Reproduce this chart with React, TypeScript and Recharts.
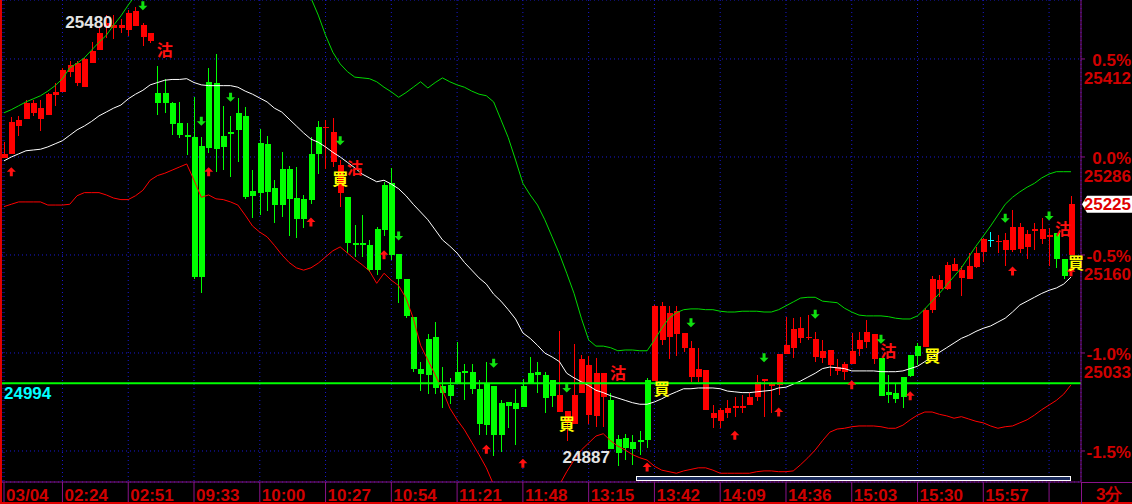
import React from 'react';
import { ComposedChart, Bar, Line, XAxis, YAxis, CartesianGrid, ReferenceLine, ReferenceDot } from 'recharts';

const W = 1132;
const H = 504;
const AXIS_RED = '#d00000';
const PURPLE = '#8a128a';
const GRID = '#1a1ad0';
const FONT = '"Liberation Sans", Arial, sans-serif';
const CJK = '"Noto Sans CJK TC", "Noto Sans CJK SC", sans-serif';

// ---- values ----
const basePrice = 25286;
const supportPrice = 24994;
const yDomain = [24866.7, 25488.5];
const xDomain = [-0.274, 147.37];

const tickIdx = [0, 8, 17, 26, 35, 44, 53, 62, 71, 80, 89, 98, 107, 116, 125, 134, 143];
const tickLabels = ['03/04', '02:24', '02:51', '09:33', '10:00', '10:27', '10:54', '11:21', '11:48', '13:15', '13:42', '14:09', '14:36', '15:03', '15:30', '15:57', ''];
const pctSteps = [0.5, 0, -0.5, -1.0, -1.5];
const pctLabels = ['0.5%', '0.0%', '-0.5%', '-1.0%', '-1.5%'];
const priceLabels = ['25412', '25286', '25160', '25033', ''];

const opens = [
  25285, 25290, 25326, 25335, 25343, 25335, 25340, 25366, 25370, 25396, 25381, 25376, 25407, 25424, 25454, 25452, 25452, 25450, 25455, 25441,
  25436, 25369, 25369, 25356, 25330, 25314, 25312, 25300, 25383, 25382, 25313, 25318, 25343, 25339, 25242, 25304, 25303, 25246, 25271, 25271,
  25233, 25232, 25290, 25325, 25323, 25279, 25240, 25234, 25175, 25175, 25172, 25193, 25250, 25252, 25161, 25129, 25080, 25013, 25051, 25054,
  24991, 24992, 25009, 25010, 25009, 24987, 24994, 24991, 24969, 24970, 24969, 24991, 25007, 25009, 25005, 24998, 24957, 24943, 24941, 24982,
  24953, 24952, 24976, 24972, 24922, 24923, 24918, 24921, 24998, 24997, 25050, 25054, 25058, 25040, 25002, 25002, 24960, 24949, 24945, 24956,
  24962, 24962, 24966, 24976, 24997, 24991, 24992, 25032, 25040, 25052, 25052, 25028, 25027, 25018, 25010, 25009, 25019, 25038, 25047, 25025,
  25027, 24983, 24982, 25002, 25031, 25042, 25041, 25089, 25116, 25116, 25139, 25130, 25129, 25144, 25163, 25179, 25176, 25166, 25166, 25167,
  25170, 25190, 25180, 25183, 25188, 25154, 25160,
];
const closes = [
  25290, 25331, 25334, 25356, 25356, 25349, 25367, 25370, 25398, 25405, 25407, 25412, 25423, 25446, 25459, 25456, 25456, 25472, 25474, 25456,
  25446, 25356, 25356, 25329, 25314, 25312, 25131, 25131, 25298, 25296, 25299, 25316, 25321, 25234, 25236, 25240, 25241, 25224, 25224, 25232,
  25206, 25206, 25231, 25290, 25325, 25318, 25276, 25175, 25172, 25172, 25140, 25140, 25192, 25160, 25129, 25081, 25013, 25006, 25005, 24988,
  24982, 24978, 24994, 25007, 24987, 24941, 24940, 24927, 24927, 24965, 24961, 24963, 24994, 25005, 24975, 24978, 24979, 24958, 24979, 25025,
  25018, 25007, 25007, 24909, 24904, 24911, 24909, 24918, 24921, 25094, 25094, 25085, 25087, 25059, 25040, 25013, 25011, 24956, 24960, 24962,
  24965, 24965, 24976, 24996, 25000, 24993, 25032, 25043, 25064, 25065, 25054, 25051, 25036, 25037, 25015, 25019, 25036, 25050, 25060, 25058,
  24978, 24979, 24974, 24976, 25004, 25029, 25089, 25129, 25127, 25147, 25148, 25140, 25145, 25162, 25180, 25179, 25178, 25179, 25196, 25196,
  25187, 25193, 25193, 25185, 25154, 25132, 25225,
];
const highs = [
  25305, 25338, 25339, 25360, 25360, 25360, 25369, 25382, 25401, 25410, 25410, 25414, 25434, 25452, 25469, 25469, 25464, 25475, 25480, 25459,
  25446, 25403, 25386, 25357, 25357, 25330, 25363, 25312, 25401, 25419, 25352, 25339, 25362, 25351, 25269, 25322, 25313, 25256, 25292, 25274,
  25273, 25237, 25312, 25332, 25334, 25336, 25282, 25234, 25198, 25211, 25179, 25196, 25254, 25272, 25161, 25129, 25080, 25022, 25058, 25073,
  25015, 25001, 25047, 25019, 25019, 24998, 25022, 24991, 24972, 24970, 24987, 25000, 25028, 25022, 25009, 24998, 25061, 24958, 25045, 25031,
  25029, 25027, 25007, 24982, 24927, 24929, 24927, 24932, 25001, 25095, 25099, 25094, 25094, 25059, 25049, 25040, 25011, 24966, 24962, 24973,
  24976, 24979, 24982, 25005, 25000, 24996, 25032, 25080, 25078, 25080, 25082, 25060, 25050, 25037, 25025, 25022, 25059, 25060, 25076, 25058,
  25027, 25005, 24994, 25002, 25031, 25046, 25091, 25132, 25134, 25150, 25156, 25145, 25162, 25170, 25181, 25189, 25185, 25188, 25218, 25201,
  25192, 25201, 25207, 25194, 25188, 25154, 25236,
];
const lows = [
  25285, 25290, 25313, 25335, 25339, 25320, 25340, 25352, 25370, 25389, 25378, 25376, 25407, 25424, 25440, 25438, 25446, 25442, 25455, 25429,
  25433, 25340, 25343, 25314, 25311, 25289, 25129, 25110, 25291, 25267, 25269, 25260, 25280, 25232, 25207, 25211, 25216, 25201, 25209, 25184,
  25181, 25194, 25225, 25264, 25271, 25273, 25222, 25162, 25157, 25157, 25138, 25134, 25184, 25153, 25098, 25078, 25009, 24984, 24980, 24980,
  24962, 24967, 24994, 24972, 24980, 24927, 24927, 24900, 24905, 24936, 24914, 24963, 24994, 24982, 24956, 24963, 24957, 24920, 24941, 24982,
  24941, 24938, 24938, 24909, 24887, 24895, 24888, 24902, 24911, 24997, 25043, 25025, 25029, 25034, 24996, 24996, 24960, 24936, 24936, 24949,
  24951, 24956, 24966, 24971, 24951, 24956, 24979, 25032, 25027, 25046, 25050, 25022, 25020, 25004, 25005, 24998, 25019, 25029, 25040, 25019,
  24978, 24969, 24969, 24962, 25002, 25018, 25041, 25085, 25105, 25114, 25139, 25107, 25129, 25143, 25150, 25170, 25162, 25145, 25163, 25162,
  25154, 25166, 25174, 25145, 25143, 25129, 25160,
];
const bollUpper = [
  25343, 25347, 25352, 25357, 25361, 25365, 25371, 25378, 25387, 25401, 25407, 25414, 25424, 25434, 25443, 25456, 25468, 25482, 25495, 25508,
  25521, 25534, 25543, 25553, 25559, 25566, 25579, 25592, 25598, 25605, 25611, 25618, 25618, 25618, 25611, 25605, 25592, 25579, 25559, 25540,
  25521, 25504, 25491, 25469, 25443, 25421, 25406, 25396, 25389, 25388, 25387, 25383, 25376, 25370, 25363, 25369, 25376, 25383, 25375, 25382,
  25388, 25383, 25379, 25376, 25371, 25367, 25365, 25357, 25334, 25311, 25282, 25252, 25237, 25224, 25205, 25183, 25161, 25136, 25110, 25078,
  25050, 25042, 25042, 25040, 25036, 25037, 25037, 25036, 25036, 25050, 25065, 25078, 25085, 25089, 25090, 25090, 25089, 25089, 25087, 25086,
  25086, 25087, 25087, 25087, 25086, 25086, 25089, 25094, 25099, 25104, 25105, 25105, 25100, 25099, 25098, 25091, 25086, 25082, 25081, 25081,
  25081, 25080, 25078, 25077, 25077, 25081, 25090, 25100, 25110, 25121, 25132, 25143, 25157, 25171, 25184, 25197, 25211, 25225, 25234, 25241,
  25247, 25252, 25259, 25264, 25267, 25267, 25267,
];
const bollMid = [
  25281, 25286, 25290, 25294, 25295, 25296, 25299, 25303, 25307, 25314, 25321, 25326, 25332, 25339, 25344, 25349, 25353, 25361, 25367, 25372,
  25379, 25382, 25385, 25386, 25386, 25387, 25382, 25379, 25378, 25378, 25378, 25378, 25376, 25371, 25367, 25362, 25357, 25349, 25344, 25335,
  25326, 25317, 25309, 25305, 25299, 25292, 25286, 25279, 25272, 25264, 25259, 25254, 25256, 25251, 25245, 25236, 25225, 25215, 25205, 25192,
  25179, 25171, 25162, 25150, 25140, 25130, 25122, 25109, 25100, 25089, 25077, 25059, 25052, 25043, 25033, 25028, 25022, 25007, 25001, 24996,
  24991, 24985, 24982, 24978, 24975, 24972, 24969, 24967, 24967, 24970, 24974, 24979, 24983, 24987, 24987, 24988, 24988, 24988, 24987, 24984,
  24983, 24982, 24982, 24983, 24984, 24985, 24988, 24989, 24993, 24997, 25002, 25007, 25013, 25015, 25014, 25013, 25010, 25010, 25010, 25010,
  25009, 25009, 25009, 25010, 25013, 25016, 25022, 25028, 25034, 25040, 25046, 25052, 25056, 25061, 25065, 25068, 25073, 25078, 25086, 25095,
  25100, 25105, 25110, 25114, 25117, 25122, 25131,
];
const bollLower = [
  25222, 25225, 25228, 25228, 25228, 25228, 25224, 25224, 25224, 25225, 25236, 25240, 25240, 25240, 25237, 25233, 25231, 25231, 25236, 25243,
  25256, 25262, 25265, 25269, 25273, 25277, 25256, 25234, 25237, 25232, 25231, 25228, 25224, 25211, 25197, 25189, 25183, 25172, 25160, 25150,
  25143, 25140, 25143, 25149, 25157, 25165, 25170, 25162, 25154, 25147, 25139, 25123, 25136, 25127, 25120, 25104, 25078, 25043, 25024, 25005,
  24985, 24962, 24947, 24934, 24918, 24902, 24885, 24863, 24850, 24837, 24828, 24824, 24824, 24831, 24837, 24850, 24863, 24880, 24895, 24908,
  24917, 24926, 24929, 24920, 24913, 24908, 24902, 24898, 24895, 24887, 24882, 24880, 24878, 24881, 24883, 24885, 24885, 24882, 24878, 24878,
  24878, 24878, 24878, 24880, 24881, 24881, 24880, 24880, 24881, 24889, 24898, 24908, 24920, 24931, 24935, 24936, 24938, 24939, 24939, 24939,
  24938, 24936, 24936, 24940, 24947, 24953, 24957, 24957, 24954, 24952, 24949, 24951, 24948, 24945, 24943, 24939, 24936, 24938, 24939, 24943,
  24947, 24953, 24960, 24966, 24972, 24980, 24992,
];

// signal markers: [candle index, price level]
const upArrows = [[1, 25267], [28, 25267], [42, 25202], [52, 25160], [66, 24909], [71, 24891], [88, 24886], [100, 24927], [106, 24957], [116, 24992], [124, 24978], [138, 25139], [146, 25138]];
const downArrows = [[19, 25481], [27, 25332], [31, 25363], [46, 25307], [54, 25184], [67, 25020], [77, 24988], [94, 25072], [104, 25027], [111, 25083], [120, 25051], [137, 25207], [143, 25210]];
const buySignals = [[46, 25258], [77, 24941], [90, 24987], [127, 25029], [146.7, 25149]];
const sellSignals = [[22, 25424], [48, 25272], [84, 25007], [121, 25036], [144.9, 25193]];

const data = opens.map((o, i) => ({
  i,
  o,
  c: closes[i],
  h: highs[i],
  l: lows[i],
  range: [lows[i], highs[i]],
  up: bollUpper[i],
  mid: bollMid[i],
  lo: bollLower[i],
}));

const yTicks = pctSteps.map((p) => basePrice * (1 + p / 100));

let maxIdx = 0;
let minIdx = 0;
highs.forEach((v, i) => { if (v > highs[maxIdx]) maxIdx = i; });
lows.forEach((v, i) => { if (v < lows[minIdx]) minIdx = i; });

const Candle = (props: any) => {
  const { x, y, width, height } = props;
  const d = props.payload || data[props.index];
  if (d == null || height == null) return null;
  const k = d.h === d.l ? 0 : height / (d.h - d.l);
  const yOf = (v: number) => y + (d.h - v) * k;
  const top = yOf(Math.max(d.o, d.c));
  const bot = yOf(Math.min(d.o, d.c));
  const color = d.c > d.o ? '#ff0000' : d.c < d.o ? '#00ff00' : '#00ffff';
  const wp = Math.floor(x + width / 2);
  return (
    <g shapeRendering="crispEdges">
      <rect x={wp} y={y} width={1} height={Math.max(1, height)} fill={color} />
      <rect x={wp - 2} y={top} width={6} height={Math.max(1, bot - top)} fill={color} />
    </g>
  );
};

const XTick = (props: any) => {
  const { x, y, payload } = props;
  const k = tickIdx.indexOf(payload.value);
  const label = k >= 0 ? tickLabels[k] : '';
  return (
    <text x={x + 2} y={y - 1} fill={AXIS_RED} fontFamily={FONT} fontSize={17} fontWeight="bold">
      {label}
    </text>
  );
};

const YTick = (props: any) => {
  const { x, y, payload } = props;
  let k = 0;
  yTicks.forEach((t, i) => { if (Math.abs(t - payload.value) < Math.abs(yTicks[k] - payload.value)) k = i; });
  return (
    <g>
      <text x={x + 44} y={y + 7} textAnchor="end" fill={AXIS_RED} fontFamily={FONT} fontSize={17} fontWeight="bold">
        {pctLabels[k]}
      </text>
      {priceLabels[k] ? (
        <text x={x + 44} y={y + 25} textAnchor="end" fill={AXIS_RED} fontFamily={FONT} fontSize={17} fontWeight="bold">
          {priceLabels[k]}
        </text>
      ) : null}
    </g>
  );
};

const upArrowShape = (p: any) => {
  const { cx, cy } = p;
  return (
    <path
      d={`M${cx} ${cy - 4.5} L${cx + 4.5} ${cy} L${cx + 1.5} ${cy} L${cx + 1.5} ${cy + 4.5} L${cx - 1.5} ${cy + 4.5} L${cx - 1.5} ${cy} L${cx - 4.5} ${cy} Z`}
      fill="#ff1010"
    />
  );
};
const downArrowShape = (p: any) => {
  const { cx, cy } = p;
  return (
    <path
      d={`M${cx} ${cy + 4.5} L${cx + 4.5} ${cy} L${cx + 1.5} ${cy} L${cx + 1.5} ${cy - 4.5} L${cx - 1.5} ${cy - 4.5} L${cx - 1.5} ${cy} L${cx - 4.5} ${cy} Z`}
      fill="#10e010"
    />
  );
};
const glyphShape = (ch: string, color: string) => (p: any) => (
  <text x={p.cx} y={p.cy + 6} textAnchor="middle" fontFamily={CJK} fontSize={16} fontWeight="bold" fill={color}>
    {ch}
  </text>
);

const highLabel = (p: any) => (
  <text x={p.cx - 23} y={p.cy + 21} textAnchor="end" fontFamily={FONT} fontSize={17} fontWeight="bold" fill="#e4e4e4">
    {Math.round(highs[maxIdx])}
  </text>
);
const lowLabel = (p: any) => (
  <text x={p.cx - 8} y={p.cy - 3} textAnchor="end" fontFamily={FONT} fontSize={17} fontWeight="bold" fill="#e4e4e4">
    {Math.round(lows[minIdx])}
  </text>
);
const supportLabel = (p: any) => (
  <text x={p.cx + 2} y={p.cy + 16} fontFamily={FONT} fontSize={17} fontWeight="bold" fill="#00ffff">
    {supportPrice}
  </text>
);
const lastTag = (p: any) => {
  const { cx, cy } = p;
  return (
    <g>
      <path d={`M${cx + 1} ${cy} L${cx + 6} ${cy - 8.5} L${cx + 51} ${cy - 8.5} L${cx + 51} ${cy + 8.5} L${cx + 6} ${cy + 8.5} Z`} fill="#ffffff" />
      <text x={cx + 50} y={cy + 6} textAnchor="end" fontFamily={FONT} fontSize={17} fontWeight="bold" fill="#e00000">
        {closes[closes.length - 1]}
      </text>
    </g>
  );
};

export default function App() {
  return (
    <div style={{ position: 'absolute', left: 0, top: 0, width: W, height: H, background: '#000', overflow: 'hidden' }}>
      <ComposedChart width={W} height={H} data={data} margin={{ top: 0, right: 0, bottom: 0, left: 2 }}>
        <CartesianGrid stroke={GRID} strokeDasharray="1 3" />
        <XAxis
          dataKey="i"
          type="number"
          domain={xDomain}
          allowDataOverflow
          ticks={tickIdx}
          interval={0}
          height={22}
          tickSize={20}
          tickMargin={0}
          axisLine={{ stroke: PURPLE }}
          tickLine={{ stroke: PURPLE }}
          tick={<XTick />}
        />
        <YAxis
          orientation="right"
          type="number"
          domain={yDomain}
          allowDataOverflow
          ticks={yTicks}
          interval={0}
          width={51}
          tickSize={4}
          tickMargin={2}
          axisLine={{ stroke: PURPLE }}
          tickLine={{ stroke: PURPLE }}
          tick={<YTick />}
        />
        <Bar dataKey="range" barSize={6} shape={<Candle />} isAnimationActive={false} />
        <Line dataKey="up" type="linear" stroke="#00d800" strokeWidth={1} dot={false} isAnimationActive={false} />
        <Line dataKey="mid" type="linear" stroke="#ffffff" strokeWidth={1} dot={false} isAnimationActive={false} />
        <Line dataKey="lo" type="linear" stroke="#ff0000" strokeWidth={1} dot={false} isAnimationActive={false} />
        <ReferenceLine y={supportPrice} stroke="#00ff00" strokeWidth={2} />
        <ReferenceDot x={xDomain[0]} y={supportPrice} ifOverflow="visible" shape={supportLabel} />
        {upArrows.map(([i, v], k) => (
          <ReferenceDot key={'u' + k} x={i} y={v} ifOverflow="visible" shape={upArrowShape} />
        ))}
        {downArrows.map(([i, v], k) => (
          <ReferenceDot key={'d' + k} x={i} y={v} ifOverflow="visible" shape={downArrowShape} />
        ))}
        {buySignals.map(([i, v], k) => (
          <ReferenceDot key={'b' + k} x={i} y={v} ifOverflow="visible" shape={glyphShape('買', '#ffff00')} />
        ))}
        {sellSignals.map(([i, v], k) => (
          <ReferenceDot key={'s' + k} x={i} y={v} ifOverflow="visible" shape={glyphShape('沽', '#ff1010')} />
        ))}
        <ReferenceDot x={maxIdx} y={highs[maxIdx]} ifOverflow="visible" shape={highLabel} />
        <ReferenceDot x={minIdx} y={lows[minIdx]} ifOverflow="visible" shape={lowLabel} />
        <ReferenceDot x={xDomain[1]} y={closes[closes.length - 1]} ifOverflow="visible" shape={lastTag} />
      </ComposedChart>
      <svg width={W} height={H} style={{ position: 'absolute', left: 0, top: 0, pointerEvents: 'none' }}>
        <rect x={0} y={0} width={2} height={H} fill="#e00000" />
        <rect x={0} y={502} width={W} height={2} fill="#e00000" />
        <rect x={1081} y={482} width={1} height={22} fill={PURPLE} />
        <rect x={1081} y={482} width={51} height={1} fill={PURPLE} />
        <rect x={636.5} y={476.5} width={434} height={4} fill="#1c2c5c" stroke="#ffffff" strokeWidth={1} />
        <text x={1096} y={500} fill={AXIS_RED} fontFamily={FONT} fontSize={17} fontWeight="bold">3分</text>
      </svg>
    </div>
  );
}
